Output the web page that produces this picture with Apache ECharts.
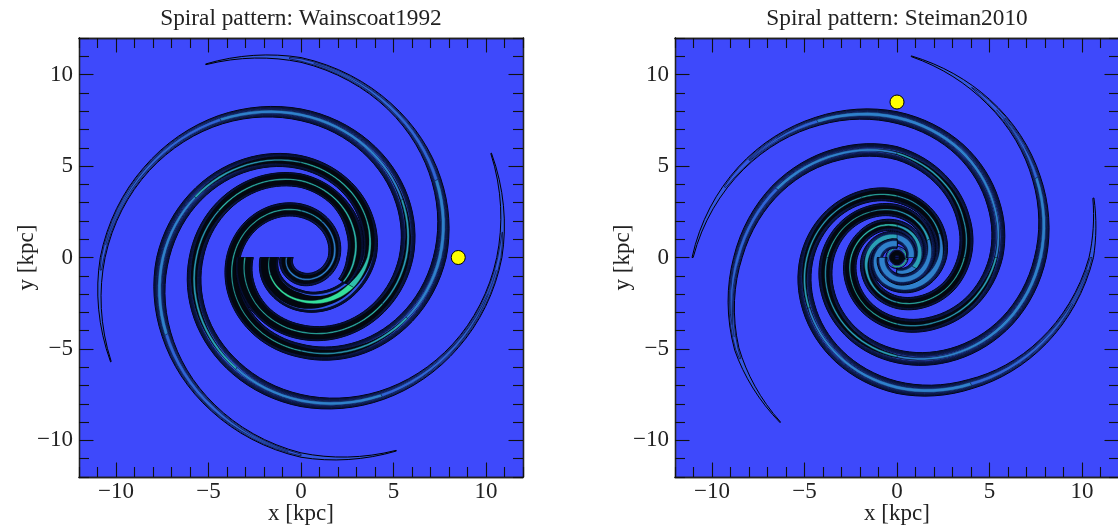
<!DOCTYPE html>
<html><head><meta charset="utf-8">
<style>html,body{margin:0;padding:0;background:#fff}#c{width:1118px;height:525px}</style>
<script src="https://cdn.jsdelivr.net/npm/echarts@6/dist/echarts.min.js"></script>
</head><body><div id="c"></div>
<script>
// Each row: angle (deg, unrolled), radius (kpc), edge half-width, black core half-width, centre half-width, centre colour
const wain1=[[180,.78,.36,.26,.04,1],[210,.89,.36,.26,.04,1],[240,1.01,.36,.26,.05,1],[270,1.16,.36,.26,.05,1],[300,1.33,.34,.24,.05,1],[330,1.54,.33,.22,.05,1],[360,1.78,.32,.2,.06,1],[390,2.01,.34,.22,.05,1],[420,2.27,.36,.26,.04,2],[450,2.56,.37,.28,.04,3],[480,2.89,.37,.28,.04,3],[510,3.26,.37,.3,.03,3],[540,3.66,.37,.3,.04,3],[570,4.10,.37,.3,.03,3],[600,4.58,.37,.28,.03,3],[630,5.10,.37,.24,.04,2],[660,5.8,.37,.16,.05,2],[690,6.6,.36,.08,.07,1],[720,7.5,.35,0,.1,1],[750,8.45,.26,0,.1,0],[780,9.55,.18,0,.08,0],[810,10.8,.13,0,0,0],[836,11.75,.02,0,0,0]];
const wain2=[[180,1.71,.5,.42,.02,3],[210,1.92,.52,.42,.04,4],[240,2.12,.55,.42,.05,4],[270,2.36,.58,.42,.07,4],[300,2.70,.55,.3,.12,4],[330,3.12,.48,.22,.17,3],[360,3.64,.42,.24,.07,3],[390,4.10,.38,.28,.04,3],[420,4.62,.37,.28,.04,3],[450,5.2,.37,.24,.04,2],[480,5.85,.36,.16,.05,2],[510,6.6,.35,.08,.07,1],[540,7.46,.34,0,.09,1],[570,8.4,.26,0,.1,0],[600,9.5,.19,0,.08,0],[630,10.8,.12,0,0,0],[656,11.75,.02,0,0,0]];
const wain3=[[180,3.03,.45,.36,.04,3],[210,3.33,.42,.34,.03,3],[240,3.68,.4,.32,.03,3],[270,4.07,.4,.32,.04,3],[300,4.55,.38,.3,.04,3],[330,5.08,.38,.26,.04,2],[360,5.68,.38,.18,.06,2],[390,6.3,.37,.12,.06,1],[420,7.0,.35,.05,.08,1],[450,7.8,.32,0,.09,1],[480,8.7,.25,0,.09,0],[510,9.65,.17,0,.06,0],[540,10.72,.13,0,0,0],[569,11.75,.02,0,0,0]];
const wain4=[[-30,2.65,.3,.2,.04,3],[0,2.9,.42,.3,.06,3],[30,3.25,.42,.3,.05,3],[60,3.7,.37,.3,.04,3],[90,4.2,.37,.3,.04,3],[120,4.65,.37,.3,.04,3],[150,5.13,.38,.26,.04,2],[180,5.66,.38,.2,.05,2],[210,6.3,.37,.14,.06,2],[240,7.0,.36,.06,.07,1],[270,7.82,.33,0,.09,1],[300,8.7,.25,0,.09,0],[330,9.65,.18,0,.06,0],[360,10.72,.14,0,0,0],[389,11.75,.02,0,0,0]];
const stei1=[[-180,.8,.26,0,.16,1],[-150,.88,.27,0,.16,1],[-120,1.0,.28,.04,.16,1],[-90,1.18,.3,.06,.15,1],[-60,1.33,.3,.08,.15,1],[-30,1.52,.3,.08,.14,1],[0,1.72,.31,.1,.12,1],[30,1.95,.32,.16,.08,2],[60,2.23,.33,.22,.05,2],[90,2.55,.34,.24,.04,2],[120,2.88,.34,.26,.03,3],[150,3.3,.35,.26,.03,3],[180,3.77,.36,.24,.04,2],[210,4.25,.36,.22,.04,2],[240,4.8,.36,.18,.05,2],[270,5.4,.36,.1,.06,1],[300,6.1,.35,.06,.07,1],[330,6.9,.34,0,.09,1],[360,7.75,.32,0,.1,1],[390,8.7,.23,0,.09,0],[420,9.85,.14,0,0,0],[446,11.03,.02,0,0,0]];
const stei2=[[-270,.75,.26,0,.16,1],[-240,.83,.27,0,.16,1],[-210,.95,.28,.04,.16,1],[-180,1.08,.29,.05,.17,1],[-150,1.22,.3,.05,.17,1],[-120,1.38,.32,.06,.18,1],[-90,1.55,.33,.06,.18,1],[-60,1.78,.34,.08,.17,1],[-30,2.03,.34,.1,.16,1],[0,2.34,.34,.14,.12,1],[30,2.63,.34,.2,.05,2],[60,2.97,.35,.26,.03,2],[90,3.36,.36,.26,.04,3],[120,3.8,.36,.24,.04,2],[150,4.3,.36,.22,.04,2],[180,4.87,.36,.16,.05,2],[210,5.5,.36,.1,.06,1],[240,6.25,.35,.04,.07,1],[270,7.1,.33,0,.1,1],[300,7.98,.27,0,.1,0],[330,9.15,.2,0,.07,0],[360,10.5,.12,0,0,0],[377,11.1,.03,0,0,0]];
const stei3=[[-360,.75,.26,0,.16,1],[-330,.85,.27,0,.16,1],[-300,.97,.28,.04,.16,1],[-270,1.1,.3,.06,.15,2],[-240,1.25,.3,.08,.14,2],[-210,1.42,.3,.1,.12,2],[-180,1.62,.31,.14,.1,2],[-150,1.84,.32,.18,.07,2],[-120,2.13,.33,.22,.05,2],[-90,2.45,.34,.24,.04,3],[-60,2.78,.35,.26,.04,3],[-30,3.2,.36,.26,.03,3],[0,3.64,.36,.24,.04,2],[30,4.15,.36,.22,.04,2],[60,4.85,.36,.16,.05,2],[90,5.7,.36,.1,.06,1],[120,6.5,.34,.02,.08,1],[150,7.5,.3,0,.09,0],[180,8.6,.23,0,.09,0],[210,10.0,.13,0,0,0],[235,11.0,.02,0,0,0]];
const stei4=[[-450,.85,.26,0,.16,1],[-420,.95,.27,0,.16,1],[-390,1.07,.28,.05,.14,2],[-360,1.2,.29,.08,.12,2],[-330,1.35,.3,.1,.1,2],[-300,1.53,.3,.14,.08,2],[-270,1.73,.31,.18,.06,3],[-240,1.97,.32,.22,.05,3],[-210,2.2,.33,.24,.04,3],[-180,2.49,.34,.26,.04,3],[-150,2.8,.35,.26,.03,3],[-120,3.2,.36,.26,.03,3],[-90,3.64,.36,.24,.04,2],[-60,4.1,.36,.22,.04,2],[-30,4.7,.36,.18,.05,2],[0,5.35,.36,.1,.06,1],[30,6.0,.35,.06,.07,1],[60,6.8,.34,0,.09,1],[90,7.65,.32,0,.1,1],[120,8.6,.24,0,.1,0],[150,9.75,.15,0,0,0],[180,11.05,.03,0,0,0]];
const steiRing=[[-10,.5,.1,0,.035,4],[40,.5,.1,0,.035,4],[80,.5,.1,0,0,4],[110,.5,.1,0,.035,3],[170,.5,.1,0,.035,3],[210,.5,.1,0,0,3],[240,.5,.1,0,.035,4],[300,.5,.1,0,.035,4],[350,.5,.1,0,.035,4]];
const steiHub=[[0,.12,.24,.24,0,0],[90,.12,.24,.24,0,0],[180,.12,.24,.24,0,0],[270,.12,.24,.24,0,0],[360,.12,.24,.24,0,0]];
const sunLeft=[[8.5,0]];
const sunRight=[[0,8.5]];
const majorTicks=[-10,-5,0,5,10];
const minorTicks=[-12,-11,-9,-8,-7,-6,-4,-3,-2,-1,1,2,3,4,6,7,8,9,11,12];
const titles=['Spiral pattern: Wainscoat1992','Spiral pattern: Steiman2010'];
const xName='x [kpc]', yName='y [kpc]';

const palette=['#2f63d6','#2f80cc','#2aa0b6','#2fbfab','#35e09b'];
const FONT='"Liberation Serif"';
const levels=[.012,.024,.036,.048,.06,.072,.084,.096,.108];

// curve through the read rows, drawn in the polar sense so the ribbon edge has no corners
function curve(rows){
  const out=[];
  for(let i=0;i<rows.length-1;i++){
    const a=rows[i],b=rows[i+1];
    for(let t=0;t<8;t++){
      const f=t/8;
      out.push([a[0]+(b[0]-a[0])*f,a[1]*Math.pow(b[1]/a[1],f),a[2]+(b[2]-a[2])*f,a[3]+(b[3]-a[3])*f,a[4]+(b[4]-a[4])*f]);
    }
  }
  out.push(rows[rows.length-1]);
  return out;
}
function ribbon(api,rows,hw){
  const dense=curve(rows);
  const k=api.size([1,1]);
  const runs=[];let cur=null;
  dense.forEach(r=>{const h=hw(r);
    if(h>0.004){
      const c=Math.cos(r[0]*Math.PI/180),sn=Math.sin(r[0]*Math.PI/180);
      const p=api.coord([r[1]*c,r[1]*sn]);
      if(!cur){cur={L:[],R:[]};runs.push(cur);}
      cur.L.push([p[0]+c*h*k[0],p[1]-sn*h*k[1]]);
      cur.R.unshift([p[0]-c*h*k[0],p[1]+sn*h*k[1]]);
    } else cur=null;
  });
  return runs.map(c=>c.L.concat(c.R));
}
function poly(points,fill,stroke,lw){
  return {type:'polygon',shape:{points:points},
    style:{fill:fill||'none',stroke:stroke||'none',lineWidth:lw||0}};
}
function armSeries(rows,xi,yi){
  return {type:'custom',coordinateSystem:'cartesian2d',xAxisIndex:xi,yAxisIndex:yi,silent:true,z:3,clip:true,
    data:rows.map(r=>r.slice(0,2)),
    renderItem:function(params,api){
      if(params.dataIndex!==0) return null;
      const ch=[];
      ribbon(api,rows,r=>r[2]).forEach(p=>ch.push(poly(p,'#3356e4','#000',1)));
      levels.forEach(a=>{
        ribbon(api,rows,r=>{const v=r[2]*r[2]-a;return v>0?Math.sqrt(v):0;})
          .forEach(p=>ch.push(poly(p,null,'#050c2a',.7)));
      });
      ribbon(api,rows,r=>r[3]).forEach(p=>ch.push(poly(p,'#03070f',null,0)));
      palette.forEach((col,ci)=>{
        let i=0;
        while(i<rows.length){
          if(rows[i][5]===ci&&rows[i][4]>0){
            let j=i;while(j+1<rows.length&&rows[j+1][5]===ci&&rows[j+1][4]>0)j++;
            const end=Math.min(j+1,rows.length-1);
            const seg=rows.slice(i,end+1);
            ribbon(api,seg,r=>r[4]).forEach(p=>ch.push(poly(p,col,'#04122a',.4)));
            i=j+1;
          } else i++;
        }
      });
      return {type:'group',children:ch};
    }};
}
function axes(dim,grid){
  const lineStyle={color:'#111',width:1.1};
  const a=dim==='x'?['bottom','top']:['left','right'];
  const mk=(pos,ticks,len,label)=>{
    const o={type:'value',gridIndex:grid,min:-12,max:12,position:pos,
      axisLine:{show:true,onZero:false,lineStyle:{color:'#222',width:1.3}},
      axisTick:{show:true,inside:true,length:len,customValues:ticks,lineStyle:lineStyle},
      splitLine:{show:false},axisLabel:{show:false}};
    if(label){
      o.axisLabel={show:true,customValues:majorTicks,margin:dim==='x'?3:6,color:'#222',fontFamily:FONT,fontSize:23,
        formatter:v=>v<0?'\u2212'+Math.abs(v):String(v)};
      o.name=dim==='x'?xName:yName;
      o.nameLocation='middle';
      o.nameMoveOverlap=false;
      o.nameGap=dim==='x'?25:41;
      o.nameTextStyle={fontFamily:FONT,fontSize:23,color:'#222'};
    }
    return o;
  };
  return [mk(a[0],majorTicks,14.5,true),mk(a[0],minorTicks,10,false),mk(a[1],majorTicks,14.5,false),mk(a[1],minorTicks,10,false)];
}
const sunStyle={color:'#ffff00',borderColor:'#000',borderWidth:1,opacity:1};
const titleStyle={fontFamily:FONT,fontSize:23.3,fontWeight:'normal',color:'#222'};
const option={
  animation:false,backgroundColor:'#fff',
  title:[
    {text:titles[0],left:296,top:2,textAlign:'center',textStyle:titleStyle},
    {text:titles[1],left:892,top:2,textAlign:'center',textStyle:titleStyle}
  ],
  grid:[
    {left:79,top:38,width:444,height:439,show:true,backgroundColor:'#3e49fb',borderWidth:0,outerBoundsMode:'none',containLabel:false},
    {left:675,top:38,width:444,height:439,show:true,backgroundColor:'#3e49fb',borderWidth:0,outerBoundsMode:'none',containLabel:false}
  ],
  xAxis:axes('x',0).concat(axes('x',1)),
  yAxis:axes('y',0).concat(axes('y',1)),
  series:[
    armSeries(wain1,0,0),armSeries(wain2,0,0),armSeries(wain3,0,0),armSeries(wain4,0,0),
    armSeries(steiRing,4,4),armSeries(stei4,4,4),armSeries(stei3,4,4),armSeries(stei2,4,4),armSeries(stei1,4,4),armSeries(steiHub,4,4),
    {type:'scatter',xAxisIndex:0,yAxisIndex:0,data:sunLeft,symbolSize:14,itemStyle:sunStyle,z:5,silent:true},
    {type:'scatter',xAxisIndex:4,yAxisIndex:4,data:sunRight,symbolSize:14,itemStyle:sunStyle,z:5,silent:true}
  ]
};
echarts.init(document.getElementById('c'),null,{renderer:'canvas'}).setOption(option);
</script></body></html>
